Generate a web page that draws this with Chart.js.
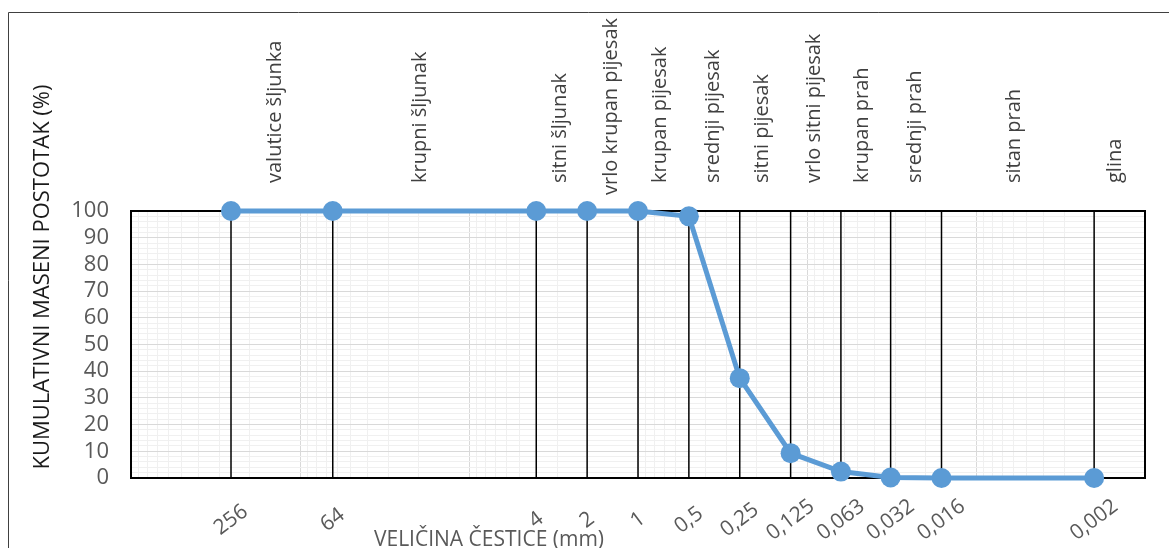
<!DOCTYPE html>
<html>
<head>
<meta charset="utf-8">
<script src="https://cdn.jsdelivr.net/npm/chart.js@4.4.1/dist/chart.umd.min.js"></script>
<style>
  html, body { margin: 0; padding: 0; background: #fff; }
  #wrap { width: 1169px; height: 548px; position: relative; }
</style>
</head>
<body>
<div id="wrap"><canvas id="gradation"></canvas></div>
<script>
// grain sizes (mm) and cumulative passing (%)
const sizes = [256, 64, 4, 2, 1, 0.5, 0.25, 0.125, 0.063, 0.032, 0.016, 0.002];
const passing = [100, 100, 100, 100, 100, 98, 37.4, 9.3, 2.4, 0.2, 0, 0];
const sizeLabels = ['256', '64', '4', '2', '1', '0,5', '0,25', '0,125', '0,063', '0,032', '0,016', '0,002'];

// soil class names and the grain size each name sits over
const classNames = ['valutice šljunka', 'krupni šljunak', 'sitni šljunak', 'vrlo krupan pijesak',
  'krupan pijesak', 'srednji pijesak', 'sitni pijesak', 'vrlo sitni pijesak', 'krupan prah',
  'srednji prah', 'sitan prah', 'glina'];
const classCentres = [140, 19.5, 2.9, 1.44, 0.74, 0.36, 0.185, 0.091, 0.047, 0.023, 0.0059, 0.0015];

const yTitle = 'KUMULATIVNI MASENI POSTOTAK (%)';
const xTitle = 'VELIČINA ČESTICE (mm)';

const FONT = '"Open Sans", "DejaVu Sans", sans-serif';

// log grid: 1..9 per decade from 0.001 to 1000
const logTicks = [];
for (let e = -3; e < 3; e++) {
  for (let m = 1; m < 10; m++) logTicks.push({ value: m * Math.pow(10, e), major: m === 1 });
}
logTicks.push({ value: 1000, major: true });

const yTicks = [];
for (let v = 0; v <= 100; v += 2) yTicks.push({ value: v });

const decorations = {
  id: 'decorations',
  beforeDraw(chart) {
    const ctx = chart.ctx;
    ctx.save();
    // outer frame
    ctx.strokeStyle = '#404040';
    ctx.lineWidth = 1;
    ctx.beginPath();
    ctx.moveTo(8.5, chart.height);
    ctx.lineTo(8.5, 12.5);
    ctx.lineTo(chart.width, 12.5);
    ctx.stroke();
    ctx.restore();
  },
  beforeDatasetsDraw(chart) {
    const { ctx, chartArea: a, scales: { x } } = chart;
    ctx.save();
    // class boundaries
    ctx.strokeStyle = '#000';
    ctx.lineWidth = 1.5;
    sizes.forEach(s => {
      const px = x.getPixelForValue(s);
      ctx.beginPath();
      ctx.moveTo(px, a.top);
      ctx.lineTo(px, a.bottom);
      ctx.stroke();
    });
    // plot box
    ctx.lineWidth = 2;
    ctx.strokeRect(a.left, a.top, a.right - a.left, a.bottom - a.top);
    ctx.restore();
  },
  afterDraw(chart) {
    const { ctx, chartArea: a, scales: { x } } = chart;
    ctx.save();

    // class names above the plot
    ctx.fillStyle = '#404040';
    ctx.font = '20px ' + FONT;
    ctx.textAlign = 'left';
    ctx.textBaseline = 'middle';
    classNames.forEach((name, i) => {
      const px = x.getPixelForValue(classCentres[i]);
      const w = ctx.measureText(name).width;
      const start = Math.max(183, 18 + w);
      ctx.save();
      ctx.translate(px, start);
      ctx.rotate(-Math.PI / 2);
      ctx.fillText(name, 0, 0);
      ctx.restore();
    });

    // rotated size labels under the plot
    ctx.fillStyle = '#595959';
    ctx.font = '21px ' + FONT;
    ctx.textAlign = 'center';
    sizeLabels.forEach((lab, i) => {
      const px = x.getPixelForValue(sizes[i]);
      ctx.save();
      ctx.translate(px, a.bottom + 42);
      ctx.rotate(-37 * Math.PI / 180);
      ctx.fillText(lab, 0, 0);
      ctx.restore();
    });

    // axis titles
    ctx.font = '21px ' + FONT;
    ctx.fillText(xTitle, 489, 540);

    ctx.fillStyle = '#1a1a1a';
    ctx.font = '22px ' + FONT;
    ctx.save();
    ctx.translate(43, 277);
    ctx.rotate(-Math.PI / 2);
    ctx.fillText(yTitle, 0, 0);
    ctx.restore();

    ctx.restore();
  }
};

new Chart(document.getElementById('gradation'), {
  type: 'line',
  data: {
    datasets: [{
      data: sizes.map((s, i) => ({ x: s, y: passing[i] })),
      borderColor: '#5B9BD5',
      borderWidth: 5,
      backgroundColor: '#5B9BD5',
      pointBackgroundColor: '#5B9BD5',
      pointBorderWidth: 0,
      pointRadius: 10,
      tension: 0,
      clip: false,
    }],
  },
  options: {
    responsive: true,
    maintainAspectRatio: false,
    animation: false,
    layout: { padding: { top: 211, right: 24, left: 0, bottom: 0 } },
    plugins: { legend: { display: false }, tooltip: { enabled: false } },
    scales: {
      x: {
        type: 'logarithmic',
        reverse: true,
        min: 0.001,
        max: 1000,
        afterBuildTicks: s => { s.ticks = logTicks.map(t => ({ ...t })); },
        afterFit: s => { s.height = 70; },
        ticks: { display: false, autoSkip: false },
        grid: {
          drawTicks: false,
          color: c => (c.tick && c.tick.major) ? '#d9d9d9' : '#f0f0f0',
          lineWidth: 1,
        },
        border: { display: false },
      },
      y: {
        min: 0,
        max: 100,
        afterBuildTicks: s => { s.ticks = yTicks.map(t => ({ ...t })); },
        afterFit: s => { s.width = 131; },
        ticks: {
          autoSkip: false,
          padding: 22,
          color: '#595959',
          font: { family: FONT, size: 22 },
          callback: v => (v % 10 === 0 ? v : ''),
        },
        grid: {
          drawTicks: false,
          color: c => (c.tick && c.tick.value % 10 === 0) ? '#d9d9d9' : '#f0f0f0',
          lineWidth: 1,
        },
        border: { display: false },
      },
    },
  },
  plugins: [decorations],
});
</script>
</body>
</html>
